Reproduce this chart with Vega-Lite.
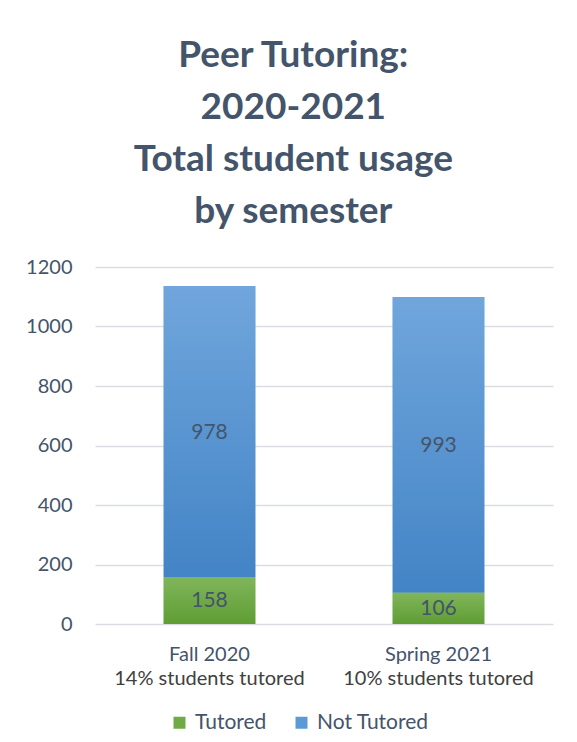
{
  "$schema": "https://vega.github.io/schema/vega-lite/v6.json",
  "width": 458,
  "height": 357,
  "autosize": {"type": "pad"},
  "padding": {"left": 25, "top": 37, "right": 21, "bottom": 10},
  "background": "white",
  "title": {
    "text": ["Peer Tutoring:", "2020-2021", "Total student usage", "by semester"],
    "font": "Lato",
    "fontSize": 37,
    "fontWeight": "bold",
    "color": "#44546A",
    "lineHeight": 52,
    "anchor": "middle",
    "frame": "bounds",
    "offset": 26,
    "dx": 4
  },
  "data": {
    "values": [
      {"semester": "Fall 2020|14% students tutored", "status": "Tutored", "count": 158, "rank": 1},
      {"semester": "Fall 2020|14% students tutored", "status": "Not Tutored", "count": 978, "rank": 2},
      {"semester": "Spring 2021|10% students tutored", "status": "Tutored", "count": 106, "rank": 1},
      {"semester": "Spring 2021|10% students tutored", "status": "Not Tutored", "count": 993, "rank": 2}
    ]
  },
  "transform": [
    {"stack": "count", "groupby": ["semester"], "sort": [{"field": "rank", "order": "ascending"}], "as": ["lo", "hi"]}
  ],
  "layer": [
    {
      "mark": {"type": "bar"},
      "encoding": {
        "x": {
          "field": "semester", "type": "nominal", "sort": null, "title": null,
          "scale": {"paddingInner": 0.6, "paddingOuter": 0.3},
          "axis": {
            "orient": "bottom",
            "labelExpr": "split(datum.value, '|')[0]",
            "labelFont": "Lato", "labelFontSize": 20, "labelColor": "#44546A",
            "labelPadding": 20, "labelAngle": 0, "labelLimit": 400,
            "domain": false, "ticks": false, "grid": false
          }
        },
        "y": {
          "field": "hi", "type": "quantitative", "title": null,
          "scale": {"domain": [0, 1200]},
          "axis": {
            "values": [0, 200, 400, 600, 800, 1000, 1200], "format": "d",
            "domain": false, "ticks": false, "labelPadding": 23,
            "labelFont": "Lato", "labelFontSize": 20, "labelColor": "#44546A",
            "gridColor": "#D9DDE3", "gridWidth": 1.5
          }
        },
        "y2": {"field": "lo"},
        "color": {
          "field": "status", "type": "nominal",
          "scale": {"domain": ["Tutored", "Not Tutored"], "range": ["#6FAA45", "#5B9BD5"]},
          "legend": {
            "orient": "none", "legendX": 74, "legendY": 445,
            "direction": "horizontal", "title": null,
            "symbolType": "square", "symbolSize": 144, "symbolStrokeWidth": 0,
            "labelFont": "Lato", "labelFontSize": 21, "labelColor": "#44546A",
            "labelOffset": 5, "columnPadding": 24
          }
        }
      }
    },
    {
      "transform": [{"filter": "datum.status == 'Tutored'"}],
      "mark": {
        "type": "bar",
        "color": {
          "gradient": "linear", "x1": 0, "y1": 0, "x2": 0, "y2": 1,
          "stops": [{"offset": 0, "color": "#80B65C"}, {"offset": 1, "color": "#5F9D33"}]
        }
      },
      "encoding": {
        "x": {"field": "semester", "type": "nominal", "sort": null, "axis": null},
        "y": {"field": "hi", "type": "quantitative"},
        "y2": {"field": "lo"}
      }
    },
    {
      "transform": [{"filter": "datum.status == 'Not Tutored'"}],
      "mark": {
        "type": "bar",
        "color": {
          "gradient": "linear", "x1": 0, "y1": 0, "x2": 0, "y2": 1,
          "stops": [{"offset": 0, "color": "#70A6DC"}, {"offset": 1, "color": "#4384C6"}]
        }
      },
      "encoding": {
        "x": {"field": "semester", "type": "nominal", "sort": null, "axis": null},
        "y": {"field": "hi", "type": "quantitative"},
        "y2": {"field": "lo"}
      }
    },
    {
      "transform": [{"fold": ["lo", "hi"], "as": ["edge", "pos"]}],
      "mark": {"type": "text", "font": "Lato", "fontSize": 21, "color": "#44546A", "baseline": "middle", "dy": 1},
      "encoding": {
        "x": {
          "field": "semester", "type": "nominal", "sort": null, "title": null,
          "axis": {
            "orient": "bottom",
            "labelExpr": "split(datum.value, '|')[1]",
            "labelFont": "Lato", "labelFontSize": 20, "labelColor": "#404040",
            "labelPadding": 44, "labelAngle": 0, "labelLimit": 400,
            "domain": false, "ticks": false, "grid": false
          }
        },
        "y": {"field": "pos", "type": "quantitative", "aggregate": "mean", "stack": null},
        "detail": {"field": "status", "type": "nominal"},
        "text": {"field": "count", "type": "quantitative", "aggregate": "max"}
      }
    }
  ],
  "resolve": {"axis": {"x": "independent"}},
  "config": {"view": {"stroke": null}}
}
